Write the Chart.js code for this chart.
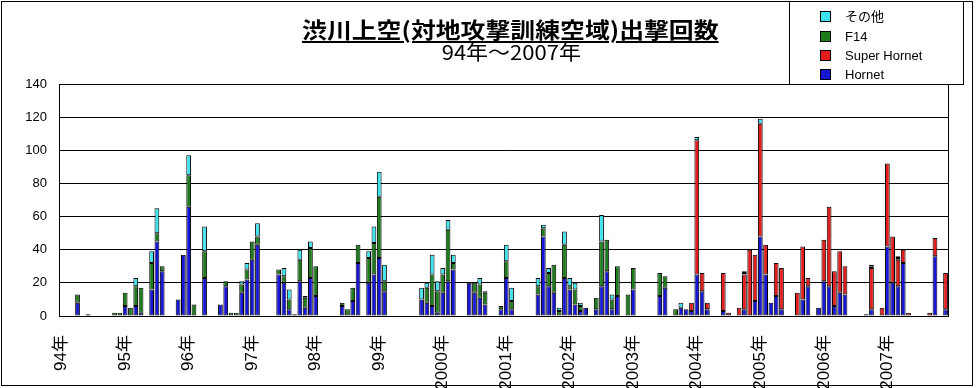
<!DOCTYPE html>
<html>
<head>
<meta charset="utf-8">
<script src="https://cdn.jsdelivr.net/npm/chart.js@4"></script>
<style>
    body { margin: 0; background: #fff; }
    #wrap { position: relative; width: 977px; height: 388px; overflow: hidden; }
    #chart { position: absolute; left: 0; top: 0; }
    .frame { position: absolute; left: 1px; top: 1px; width: 972px; height: 385px; border: 1px solid #000; box-sizing: border-box; pointer-events: none; }
    .title { position: absolute; left: 0; width: 1020px; top: 16px; text-align: center; font: bold 22px "Noto Sans CJK JP", sans-serif; line-height: 24px; color: #000; }
    .title span { display: inline-block; transform: scaleX(1.13); text-decoration: underline; text-underline-offset: 3px; }
    .subtitle { position: absolute; left: 0; width: 1022px; top: 41px; text-align: center; font: 20px "Noto Sans CJK JP", sans-serif; line-height: 22px; color: #000; }
    .subtitle span { display: inline-block; transform: scaleX(1.1); }
    .legend { position: absolute; left: 789px; top: 1px; width: 175px; height: 84px; border: 1px solid #000; box-sizing: border-box; background: #fff; }
    .legend-item { position: absolute; left: 30px; height: 16px; font: 13px "Liberation Sans", "Noto Sans CJK JP", sans-serif; line-height: 16px; color: #000; white-space: nowrap; }
    .legend-item i { position: absolute; left: 0; top: 2px; width: 11px; height: 11px; border: 1px solid #000; box-sizing: border-box; }
    .legend-item span { position: absolute; left: 25px; top: 0; }
</style>
</head>
<body>
<div id="wrap">
    <canvas id="chart" width="977" height="388"></canvas>
    <div class="frame"></div>
    <div class="title"><span>渋川上空(対地攻撃訓練空域)出撃回数</span></div>
    <div class="subtitle"><span>94年～2007年</span></div>
    <div class="legend" id="legend"></div>
</div>
<script>
// 渋川上空 出撃回数 (monthly, Jan 1994 - Dec 2007)

const YEARS = ['94年', '95年', '96年', '97年', '98年', '99年', '2000年',
    '2001年', '2002年', '2003年', '2004年', '2005年', '2006年', '2007年'];

const Y_TICKS = [0, 20, 40, 60, 80, 100, 120, 140];

// one row per year, Jan..Dec
const hornet = [
    0, 0, 0, 8, 0, 1, 0, 0, 0, 0, 0, 0,
    6, 0, 6, 2, 0, 16, 45, 27, 0, 0, 10, 37,
    66, 0, 0, 23, 0, 0, 7, 18, 0, 0, 14, 22,
    34, 43, 0, 0, 0, 25, 20, 4, 1, 21, 5, 23,
    12, 0, 0, 0, 0, 6, 0, 9, 32, 0, 20, 25,
    35, 15, 0, 0, 0, 0, 0, 0, 10, 8, 6, 2,
    14, 21, 28, 0, 0, 20, 14, 11, 7, 0, 0, 4,
    23, 4, 0, 0, 0, 0, 13, 48, 18, 14, 0, 23,
    16, 7, 3, 5, 0, 4, 18, 27, 4, 12, 0, 0,
    16, 0, 0, 0, 0, 12, 17, 0, 0, 5, 4, 3,
    25, 15, 4, 0, 0, 3, 0, 0, 0, 4, 0, 9,
    48, 25, 8, 12, 4, 0, 0, 0, 10, 18, 0, 5,
    21, 18, 6, 14, 13, 0, 0, 0, 0, 4, 0, 0,
    42, 20, 18, 32, 0, 0, 0, 0, 0, 36, 0, 4
];

const superHornet = [
    0, 0, 0, 0, 0, 0, 0, 0, 0, 0, 0, 0,
    0, 0, 0, 0, 0, 0, 0, 0, 0, 0, 0, 0,
    0, 0, 0, 0, 0, 0, 0, 0, 0, 0, 0, 0,
    0, 0, 0, 0, 0, 0, 0, 0, 0, 0, 0, 0,
    0, 0, 0, 0, 0, 0, 0, 0, 0, 0, 0, 0,
    0, 0, 0, 0, 0, 0, 0, 0, 0, 0, 0, 0,
    0, 0, 0, 0, 0, 0, 0, 0, 0, 0, 0, 0,
    0, 0, 0, 0, 0, 0, 0, 0, 0, 0, 0, 0,
    0, 0, 0, 0, 0, 0, 0, 0, 0, 0, 0, 0,
    0, 0, 0, 0, 0, 0, 0, 0, 0, 0, 0, 5,
    81, 11, 4, 0, 0, 23, 2, 0, 5, 21, 40, 28,
    68, 18, 0, 20, 25, 0, 0, 14, 32, 5, 0, 0,
    25, 48, 21, 25, 17, 0, 0, 0, 1, 25, 0, 5,
    50, 28, 16, 8, 2, 0, 0, 0, 2, 11, 0, 22
];

const f14 = [
    0, 0, 0, 5, 0, 0, 0, 0, 0, 0, 2, 2,
    8, 5, 12, 15, 0, 16, 5, 3, 0, 0, 0, 0,
    19, 7, 0, 16, 0, 0, 0, 3, 2, 2, 5, 6,
    11, 5, 0, 0, 0, 3, 4, 6, 0, 13, 6, 18,
    18, 0, 0, 0, 0, 2, 4, 8, 11, 0, 15, 19,
    37, 6, 0, 0, 0, 0, 0, 0, 0, 9, 19, 13,
    11, 31, 4, 0, 0, 0, 6, 8, 7, 0, 0, 2,
    10, 5, 0, 0, 0, 0, 5, 5, 8, 17, 3, 20,
    2, 9, 3, 0, 0, 7, 27, 19, 6, 18, 0, 13,
    13, 0, 0, 0, 0, 14, 7, 0, 4, 0, 0, 0,
    0, 0, 0, 0, 0, 0, 0, 0, 0, 1, 0, 0,
    0, 0, 0, 0, 0, 0, 0, 0, 0, 0, 0, 0,
    0, 0, 0, 0, 0, 0, 0, 0, 0, 1, 0, 0,
    0, 0, 1, 0, 0, 0, 0, 0, 0, 0, 0, 0
];

const other = [
    0, 0, 0, 0, 0, 0, 0, 0, 0, 0, 0, 0,
    0, 0, 5, 0, 0, 7, 15, 0, 0, 0, 0, 0,
    12, 0, 0, 15, 0, 0, 0, 0, 0, 0, 2, 4,
    0, 8, 0, 0, 0, 0, 5, 6, 0, 6, 1, 4,
    0, 0, 0, 0, 0, 0, 0, 0, 0, 0, 4, 10,
    15, 10, 0, 0, 0, 0, 0, 0, 7, 3, 12, 6,
    4, 6, 5, 0, 0, 0, 0, 4, 1, 0, 0, 0,
    10, 8, 0, 0, 0, 0, 5, 2, 3, 0, 2, 8,
    5, 4, 2, 0, 0, 0, 16, 0, 3, 0, 0, 0,
    0, 0, 0, 0, 0, 0, 0, 0, 0, 3, 0, 0,
    2, 0, 0, 0, 0, 0, 0, 0, 0, 1, 0, 0,
    3, 0, 0, 0, 0, 0, 0, 0, 0, 0, 0, 0,
    0, 0, 0, 0, 0, 0, 0, 0, 0, 1, 0, 0,
    0, 0, 1, 0, 0, 0, 0, 0, 0, 0, 0, 0
];

const SERIES = [
    { label: 'Hornet', data: hornet, color: '#1616d6' },
    { label: 'Super Hornet', data: superHornet, color: '#e41c1c' },
    { label: 'F14', data: f14, color: '#1c7c1c' },
    { label: 'その他', data: other, color: '#3ee4ee' },
];

// a label on each January, blank for the other months
function buildLabels() {
    const labels = [];
    YEARS.forEach(y => {
        labels.push(y);
        for (let m = 1; m < 12; m++) labels.push('');
    });
    return labels;
}

// legend box top right, top entry = top of stack
function renderLegend() {
    const box = document.getElementById('legend');
    const tops = [7, 27, 46, 65];
    SERIES.slice().reverse().forEach((s, i) => {
        const div = document.createElement('div');
        div.className = 'legend-item';
        div.style.top = tops[i] + 'px';
        div.innerHTML = `<i style="background:${s.color}"></i><span>${s.label}</span>`;
        box.appendChild(div);
    });
}

// right edge of the plot area
const plotBorder = {
    id: 'plotBorder',
    afterDraw(chart) {
        const { ctx, chartArea } = chart;
        ctx.save();
        ctx.strokeStyle = '#000';
        ctx.lineWidth = 1;
        ctx.beginPath();
        ctx.moveTo(Math.round(chartArea.right) + 0.5, chartArea.top);
        ctx.lineTo(Math.round(chartArea.right) + 0.5, chartArea.bottom);
        ctx.stroke();
        ctx.restore();
    }
};

function renderChart() {
    const ctx = document.getElementById('chart').getContext('2d');
    new Chart(ctx, {
        type: 'bar',
        data: {
            labels: buildLabels(),
            datasets: SERIES.map(s => ({
                label: s.label,
                data: s.data,
                backgroundColor: s.color,
                borderColor: '#000',
                borderWidth: 1,
                borderSkipped: false,
                barPercentage: 0.9,
                categoryPercentage: 1.0,
            }))
        },
        options: {
            responsive: false,
            animation: false,
            devicePixelRatio: 1,
            layout: { padding: { top: 84, right: 15, left: 0, bottom: 0 } },
            plugins: {
                legend: { display: false },
                tooltip: { enabled: false }
            },
            scales: {
                x: {
                    stacked: true,
                    grid: { display: false },
                    border: { color: '#000', width: 1 },
                    ticks: {
                        autoSkip: false,
                        minRotation: 90,
                        maxRotation: 90,
                        padding: 11,
                        color: '#000',
                        font: { family: '"Liberation Sans", "Noto Sans CJK JP", sans-serif', size: 17 }
                    },
                    afterFit(scale) { scale.height = 72; }
                },
                y: {
                    stacked: true,
                    min: 0,
                    max: 140,
                    afterBuildTicks(scale) { scale.ticks = Y_TICKS.map(v => ({ value: v })); },
                    grid: { color: '#000', lineWidth: 1, drawTicks: false },
                    border: { color: '#000', width: 1 },
                    ticks: {
                        padding: 12,
                        color: '#000',
                        font: { family: '"Liberation Sans", sans-serif', size: 13 }
                    },
                    afterFit(scale) { scale.width = 59; }
                }
            }
        },
        plugins: [plotBorder]
    });
}

window.addEventListener('DOMContentLoaded', () => {
    renderLegend();
    renderChart();
});
</script>
</body>
</html>
